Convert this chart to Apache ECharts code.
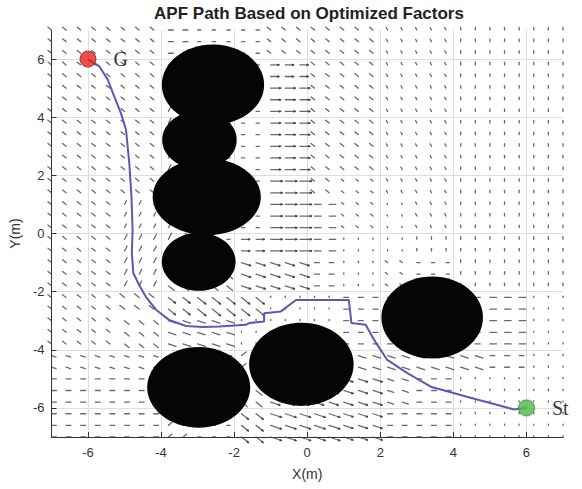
<!DOCTYPE html>
<html>
<head>
<meta charset="utf-8">
<script src="https://cdn.jsdelivr.net/npm/echarts@6/dist/echarts.min.js"></script>
<style>
  html, body { margin: 0; padding: 0; background: #ffffff; }
  #chart { width: 582px; height: 489px; }
</style>
</head>
<body>
<div id="chart"></div>
<script>
// Axis tick positions (metres)
const xTicks = [-6, -4, -2, 0, 2, 4, 6];
const yTicks = [-6, -4, -2, 0, 2, 4, 6];

// Start and goal positions
const goalPoint = [-6, 6];
const startPoint = [6, -6];

// Obstacles: centre x, centre y, radius x, radius y (metres)
const obstacleCx = [-2.58, -2.95, -2.75, -2.97, -2.97, -0.16, 3.42];
const obstacleCy = [5.12, 3.22, 1.26, -0.97, -5.29, -4.50, -2.89];
const obstacleRx = [1.40, 1.02, 1.48, 1.01, 1.41, 1.43, 1.39];
const obstacleRy = [1.38, 1.00, 1.32, 1.00, 1.39, 1.43, 1.41];

// Planned path from goal G to start St
const pathX = [-6.00, -5.69, -5.46, -5.28, -5.10, -4.96, -4.87, -4.81, -4.78, -4.80,
               -4.76, -4.60, -4.42, -4.14, -3.78, -3.32, -2.86, -2.41, -1.68, -1.59,
               -1.18, -1.18, -0.72, -0.31, 1.14, 1.21, 1.60, 1.83, 2.19, 2.74,
               3.38, 4.47, 5.21, 5.65, 6.00];
const pathY = [6.00, 5.75, 5.29, 4.71, 4.14, 3.57, 2.42, 1.27, 0.13, -0.67,
               -1.36, -1.77, -2.17, -2.62, -2.97, -3.18, -3.22, -3.20, -3.14, -3.08,
               -3.03, -2.74, -2.68, -2.29, -2.29, -3.08, -3.14, -3.66, -4.35, -4.80,
               -5.27, -5.65, -5.90, -6.05, -6.00];

// Force field sample points, every 0.4 m from -7 to 7
const fieldX = [];
const fieldY = [];
for (let k = 0; k <= 35; k++) {
  fieldX.push(Math.round((-7 + 0.4 * k) * 10) / 10);
  fieldY.push(Math.round((-7 + 0.4 * k) * 10) / 10);
}

// Force direction and magnitude per 1 m cell, rows from y=7 down to y=-7,
// columns from x=-7 to x=7. Letter = direction in 22.5 degree steps
// (A = +x, E = +y, I = -x, M = -y), digit = magnitude.
const fieldRows = [
  "G3 G3 G3 A3 A2 A2 G3 G3 G3 F2 F2 E2 E2 E2",
  "G3 G3 G3 C3 A2 A2 A5 G3 G3 F2 F2 E2 E2 E2",
  "G3 G3 G3 D4 A2 A2 A6 G3 G3 F2 F2 E2 E2 E2",
  "G3 G3 G3 D4 A2 A2 A6 G3 G3 F2 F2 E2 E2 E2",
  "G3 G3 G3 D4 A2 A2 A6 G3 G3 F2 F2 E2 E2 E2",
  "G3 G3 G3 D5 A2 A2 A7 G3 G2 F2 F2 E2 E2 E2",
  "G3 G3 D3 D5 A2 A2 A7 A4 G2 F1 F2 E2 E2 E2",
  "G3 G3 D4 D5 A2 A5 A7 A4 E1 E1 E2 E2 E2 E2",
  "G3 G3 D4 O5 O5 P6 P6 A3 E1 G2 A2 E2 E2 E2",
  "G3 G3 G4 O6 O7 O7 E1 E1 A3 A3 A3 A3 A4 E1",
  "G3 G3 O4 P5 P5 E1 E1 E1 A3 A3 A3 A3 A4 E1",
  "P3 P3 P3 A3 A3 C4 E1 E1 P5 P5 P5 P5 A3 E1",
  "A3 A3 A3 A3 A3 O5 P6 P6 P6 P4 A3 E1 E1 E1",
  "A3 A3 A3 C3 A2 O6 P7 P7 P6 A3 A3 E1 E1 E1"
];

const ARROW_SCALE = 0.045;

const fieldCells = fieldRows.map(r => r.trim().split(/\s+/));
const quiverData = [];
fieldY.forEach(y => {
  fieldX.forEach(x => {
    const row = Math.min(13, Math.max(0, Math.floor(7 - y)));
    const col = Math.min(13, Math.max(0, Math.floor(x + 7)));
    const code = fieldCells[row][col];
    const ang = (code.charCodeAt(0) - 65) * 22.5 * Math.PI / 180;
    const mag = parseInt(code.slice(1), 10);
    quiverData.push([x, y, mag * Math.cos(ang), mag * Math.sin(ang)]);
  });
});

const obstacleData = obstacleCx.map((cx, i) => [cx, obstacleCy[i], obstacleRx[i], obstacleRy[i]]);
const pathData = pathX.map((x, i) => [x, pathY[i]]);

function renderArrow(params, api) {
  const x = api.value(0), y = api.value(1), u = api.value(2), v = api.value(3);
  const p0 = api.coord([x, y]);
  const p1 = api.coord([x + u * ARROW_SCALE, y + v * ARROW_SCALE]);
  const dx = p1[0] - p0[0], dy = p1[1] - p0[1];
  const len = Math.hypot(dx, dy);
  const style = { stroke: '#404040', lineWidth: 1.3, lineCap: 'round', opacity: 0.78 };
  const children = [{
    type: 'line',
    shape: { x1: p0[0], y1: p0[1], x2: p1[0], y2: p1[1] },
    style: style
  }];
  if (len > 8) {
    const hl = 1.5;
    const a = Math.atan2(dy, dx);
    [0.45, -0.45].forEach(s => {
      children.push({
        type: 'line',
        shape: {
          x1: p1[0], y1: p1[1],
          x2: p1[0] - hl * Math.cos(a + s), y2: p1[1] - hl * Math.sin(a + s)
        },
        style: style
      });
    });
  }
  return { type: 'group', children: children };
}

function renderObstacle(params, api) {
  const c = api.coord([api.value(0), api.value(1)]);
  const s = api.size([api.value(2), api.value(3)]);
  return {
    type: 'ellipse',
    shape: { cx: c[0], cy: c[1], rx: s[0], ry: s[1] },
    style: { fill: '#050505' }
  };
}

const chart = echarts.init(document.getElementById('chart'), null, { renderer: 'svg' });

const axisCommon = {
  type: 'value',
  min: -7,
  max: 7,
  axisLine: { show: true, onZero: false, lineStyle: { color: '#333', width: 1 } },
  axisTick: { show: true, inside: true, length: 5, lineStyle: { color: '#333' } },
  splitLine: { show: true, lineStyle: { color: '#dedede', width: 1 } },
  axisLabel: { color: '#333', fontSize: 13, fontFamily: 'Liberation Sans, Arial, sans-serif' },
  nameLocation: 'middle',
  nameTextStyle: { color: '#333', fontSize: 14, fontFamily: 'Liberation Sans, Arial, sans-serif' }
};

chart.setOption({
  animation: false,
  backgroundColor: '#ffffff',
  grid: { left: 50, right: 19, top: 30, bottom: 52 },
  graphic: [{
    type: 'text',
    x: 309, y: 13,
    style: {
      text: 'APF Path Based on Optimized Factors',
      fill: '#222',
      font: 'bold 17px "Liberation Sans", Arial, sans-serif',
      textAlign: 'center',
      textVerticalAlign: 'middle'
    }
  }],
  xAxis: Object.assign({}, axisCommon, {
    name: 'X(m)',
    nameGap: 30,
    axisTick: Object.assign({}, axisCommon.axisTick, { customValues: xTicks }),
    axisLabel: Object.assign({}, axisCommon.axisLabel, { customValues: xTicks, margin: 9 })
  }),
  yAxis: Object.assign({}, axisCommon, {
    name: 'Y(m)',
    nameGap: 27,
    axisTick: Object.assign({}, axisCommon.axisTick, { customValues: yTicks }),
    axisLabel: Object.assign({}, axisCommon.axisLabel, { customValues: yTicks, margin: 7 })
  }),
  series: [
    {
      type: 'custom',
      name: 'field',
      data: quiverData,
      renderItem: renderArrow,
      silent: true,
      z: 1
    },
    {
      type: 'custom',
      name: 'obstacles',
      data: obstacleData,
      renderItem: renderObstacle,
      silent: true,
      z: 2
    },
    {
      type: 'line',
      name: 'path',
      data: pathData,
      showSymbol: false,
      lineStyle: { color: '#5a5ab4', width: 2 },
      z: 3
    },
    {
      type: 'scatter',
      name: 'G',
      data: [goalPoint],
      symbolSize: 16,
      itemStyle: { color: '#e8231e', borderColor: '#a81512', borderWidth: 1 },
      label: {
        show: true, position: 'right', distance: 17, formatter: 'G',
        color: '#000', fontSize: 20, fontFamily: 'Liberation Serif, Times New Roman, serif'
      },
      z: 4
    },
    {
      type: 'scatter',
      name: 'St',
      data: [startPoint],
      symbolSize: 16,
      itemStyle: { color: '#4cb848', borderColor: '#2e8a2c', borderWidth: 1 },
      label: {
        show: true, position: 'right', distance: 17, formatter: 'St',
        color: '#000', fontSize: 20, fontFamily: 'Liberation Serif, Times New Roman, serif'
      },
      z: 4
    }
  ]
});
</script>
</body>
</html>
